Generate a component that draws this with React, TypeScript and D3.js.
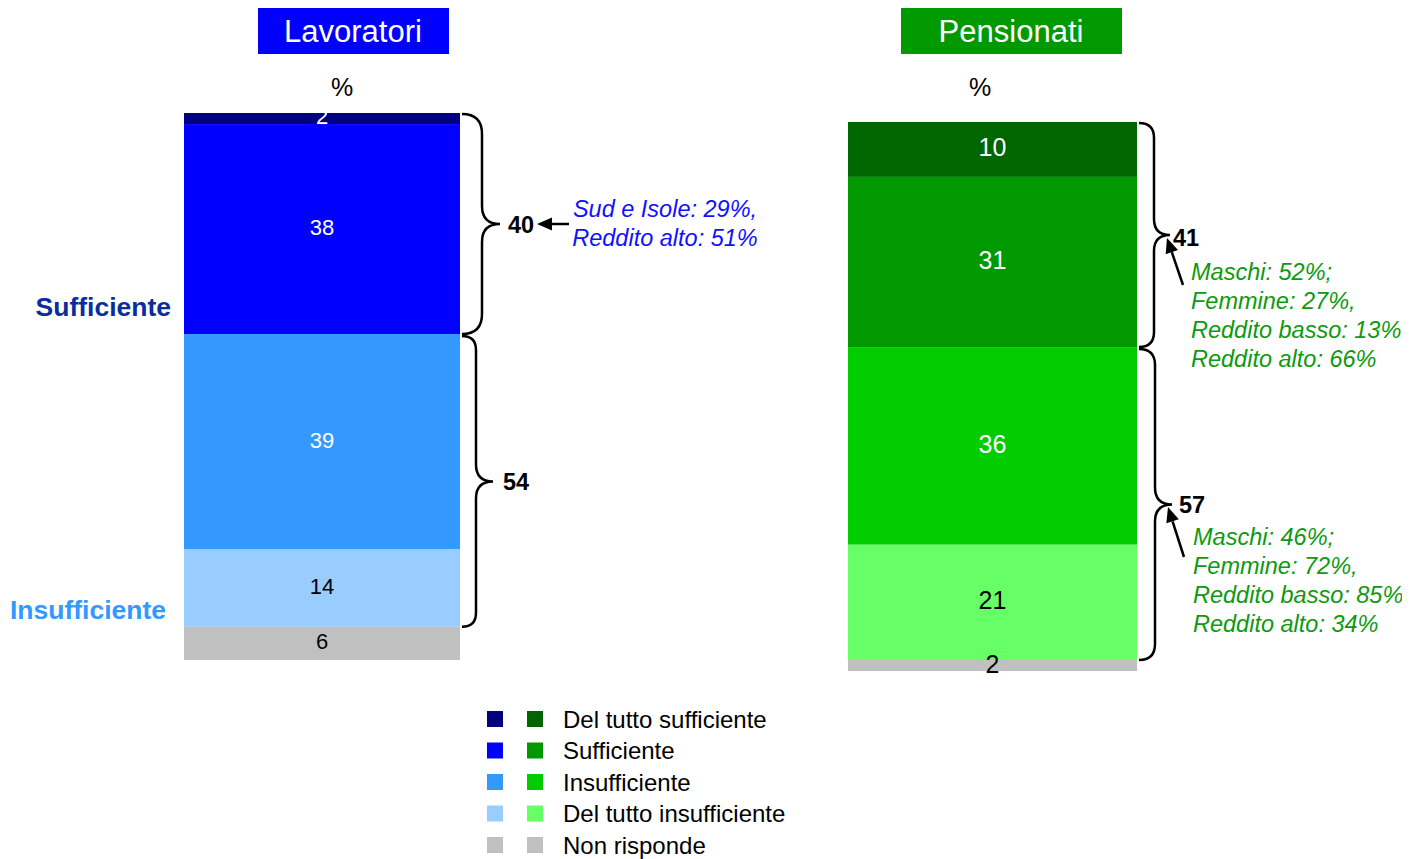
import * as d3 from "d3";

const categories = [
  "Del tutto sufficiente",
  "Sufficiente",
  "Insufficiente",
  "Del tutto insufficiente",
  "Non risponde",
];
const lavoratoriValues = [2, 38, 39, 14, 6];
const pensionatiValues = [10, 31, 36, 21, 2];
const lavoratoriColors = ["#000080", "#0000ff", "#3399ff", "#99ccff", "#c0c0c0"];
const pensionatiColors = ["#006600", "#009900", "#00cc00", "#66ff66", "#c0c0c0"];
const lavoratoriLabelColors = ["#fff", "#fff", "#fff", "#000", "#000"];
const pensionatiLabelColors = ["#fff", "#fff", "#fff", "#000", "#000"];
const lavoratoriTotals = [40, 54];
const pensionatiTotals = [41, 57];
const lavoratoriNotes = ["Sud e Isole: 29%,", "Reddito alto: 51%"];
const pensionatiNotesTop = ["Maschi: 52%;", "Femmine: 27%,", "Reddito basso: 13%", "Reddito alto: 66%"];
const pensionatiNotesBottom = ["Maschi: 46%;", "Femmine: 72%,", "Reddito basso: 85%", "Reddito alto: 34%"];

const FONT = "'Liberation Sans', Arial, sans-serif";
const W = 1422;
const H = 859;

type Seg = { cat: string; value: number; y0: number; y1: number; i: number };

function stackSegments(values: number[]): Seg[] {
  // top to bottom: accumulate from the top of the bar
  let acc = 0;
  return values.map((v, i) => {
    const s = { cat: categories[i], value: v, y0: acc, y1: acc + v, i };
    acc += v;
    return s;
  });
}

function bracePath(x0: number, top: number, bottom: number, xv: number, xt: number) {
  const mid = (top + bottom) / 2;
  const r = xv - x0;
  const rt = xt - xv;
  return [
    `M${x0},${top}`,
    `Q${xv},${top} ${xv},${top + r}`,
    `L${xv},${mid - rt}`,
    `Q${xv},${mid} ${xt},${mid}`,
    `Q${xv},${mid} ${xv},${mid + rt}`,
    `L${xv},${bottom - r}`,
    `Q${xv},${bottom} ${x0},${bottom}`,
  ].join(" ");
}

function Arrow({ x1, y1, x2, y2 }: { x1: number; y1: number; x2: number; y2: number }) {
  // arrow from (x1,y1) pointing at (x2,y2)
  const ang = Math.atan2(y2 - y1, x2 - x1);
  const len = 15;
  const wid = 6.5;
  const bx = x2 - len * Math.cos(ang);
  const by = y2 - len * Math.sin(ang);
  const px = -Math.sin(ang) * wid;
  const py = Math.cos(ang) * wid;
  return (
    <g>
      <line x1={x1} y1={y1} x2={bx} y2={by} stroke="#000" strokeWidth={2.5} />
      <path d={`M${x2},${y2} L${bx + px},${by + py} L${bx - px},${by - py} Z`} fill="#000" />
    </g>
  );
}

function Bar({
  values,
  colors,
  labelColors,
  x0,
  x1,
  top,
  bottom,
  fontSize,
}: {
  values: number[];
  colors: string[];
  labelColors: string[];
  x0: number;
  x1: number;
  top: number;
  bottom: number;
  fontSize: number;
}) {
  const segs = stackSegments(values);
  const total = d3.sum(values);
  const y = d3.scaleLinear().domain([0, total]).range([top, bottom]);
  const cx = (x0 + x1) / 2;
  return (
    <g>
      {segs.map((s) => (
        <rect key={s.cat} x={x0} y={y(s.y0)} width={x1 - x0} height={y(s.y1) - y(s.y0)} fill={colors[s.i]} />
      ))}
      {segs.map((s) => (
        <text
          key={s.cat + "l"}
          x={cx}
          y={(y(s.y0) + y(s.y1)) / 2 - 2}
          dy="0.36em"
          textAnchor="middle"
          fontSize={fontSize}
          fill={labelColors[s.i]}
        >
          {s.value}
        </text>
      ))}
    </g>
  );
}

export default function App() {
  const lavTop = 113;
  const lavBottom = 660;
  const penTop = 122;
  const penBottom = 671;
  const yLav = d3.scaleLinear().domain([0, d3.sum(lavoratoriValues)]).range([lavTop, lavBottom]);
  const yPen = d3.scaleLinear().domain([0, d3.sum(pensionatiValues)]).range([penTop, penBottom]);
  const lavSplit = yLav(lavoratoriValues[0] + lavoratoriValues[1]);
  const lavInsEnd = yLav(d3.sum(lavoratoriValues.slice(0, 4)));
  const penSplit = yPen(pensionatiValues[0] + pensionatiValues[1]);
  const penInsEnd = yPen(d3.sum(pensionatiValues.slice(0, 4)));

  const lavMid1 = (lavTop + 1 + lavSplit) / 2;
  const lavMid2 = (lavSplit + 2 + lavInsEnd) / 2;
  const penMid1 = (penTop + 1 + penSplit) / 2;
  const penMid2 = (penSplit + 2 + penInsEnd) / 2;

  const legendY = d3.scalePoint().domain(categories).range([719, 845]);

  return (
    <svg width={W} height={H} style={{ position: "absolute", left: 0, top: 0 }} fontFamily={FONT}>
      <defs>
        <clipPath id="noteClip">
          <rect x={0} y={0} width={1402} height={H} />
        </clipPath>
      </defs>
      <rect width={W} height={H} fill="#fff" />

      {/* titles */}
      <rect x={258} y={8} width={191} height={46} fill="#0000ff" />
      <text x={353} y={31} dy="0.36em" textAnchor="middle" fontSize={31} fill="#fff">
        Lavoratori
      </text>
      <rect x={901} y={8} width={221} height={46} fill="#009900" />
      <text x={1011} y={31} dy="0.36em" textAnchor="middle" fontSize={31} fill="#fff">
        Pensionati
      </text>
      <text x={342} y={87} dy="0.36em" textAnchor="middle" fontSize={25} fill="#000">%</text>
      <text x={980} y={87} dy="0.36em" textAnchor="middle" fontSize={25} fill="#000">%</text>

      {/* side labels */}
      <text x={171} y={306} dy="0.36em" textAnchor="end" fontSize={26.5} fontWeight="bold" fill="#0a2d9c">
        Sufficiente
      </text>
      <text x={166} y={609} dy="0.36em" textAnchor="end" fontSize={26.5} fontWeight="bold" fill="#3399ff">
        Insufficiente
      </text>

      <Bar
        values={lavoratoriValues}
        colors={lavoratoriColors}
        labelColors={lavoratoriLabelColors}
        x0={184}
        x1={460}
        top={lavTop}
        bottom={lavBottom}
        fontSize={22}
      />
      <Bar
        values={pensionatiValues}
        colors={pensionatiColors}
        labelColors={pensionatiLabelColors}
        x0={848}
        x1={1137}
        top={penTop}
        bottom={penBottom}
        fontSize={25}
      />

      {/* braces */}
      <g fill="none" stroke="#000" strokeWidth={2.5}>
        <path d={bracePath(462, lavTop + 1, lavSplit, 482, 500)} />
        <path d={bracePath(462, lavSplit + 2, lavInsEnd, 476, 493)} />
        <path d={bracePath(1139, penTop + 1, penSplit, 1154, 1170)} />
        <path d={bracePath(1139, penSplit + 2, penInsEnd, 1155, 1172)} />
      </g>

      {/* totals */}
      <text x={508} y={lavMid1 + 1} dy="0.36em" fontSize={23.5} fontWeight="bold">{lavoratoriTotals[0]}</text>
      <text x={503} y={lavMid2} dy="0.36em" fontSize={23.5} fontWeight="bold">{lavoratoriTotals[1]}</text>
      <text x={1173} y={penMid1 + 2} dy="0.36em" fontSize={23.5} fontWeight="bold">{pensionatiTotals[0]}</text>
      <text x={1179} y={penMid2} dy="0.36em" fontSize={23.5} fontWeight="bold">{pensionatiTotals[1]}</text>

      {/* arrows */}
      <Arrow x1={569} y1={224} x2={537} y2={224} />
      <Arrow x1={1183} y1={285} x2={1167} y2={238} />
      <Arrow x1={1184} y1={557} x2={1168} y2={507} />

      {/* notes */}
      <g fontSize={23.5} fontStyle="italic" fill="#1111ff" textAnchor="middle">
        {lavoratoriNotes.map((t, i) => (
          <text key={t} x={665} y={209 + i * 29} dy="0.36em">{t}</text>
        ))}
      </g>
      <g fontSize={23.5} fontStyle="italic" fill="#0d9a0d" clipPath="url(#noteClip)">
        {pensionatiNotesTop.map((t, i) => (
          <text key={t} x={1191} y={272 + i * 29} dy="0.36em">{t}</text>
        ))}
        {pensionatiNotesBottom.map((t, i) => (
          <text key={t} x={1193} y={537 + i * 29} dy="0.36em">{t}</text>
        ))}
      </g>

      {/* legend */}
      {categories.map((c, i) => (
        <g key={c} transform={`translate(0,${legendY(c)})`}>
          <rect x={487} y={-8} width={16} height={16} fill={lavoratoriColors[i]} />
          <rect x={527} y={-8} width={16} height={16} fill={pensionatiColors[i]} />
          <text x={563} y={0} dy="0.36em" fontSize={24} fill="#000">{c}</text>
        </g>
      ))}
    </svg>
  );
}
